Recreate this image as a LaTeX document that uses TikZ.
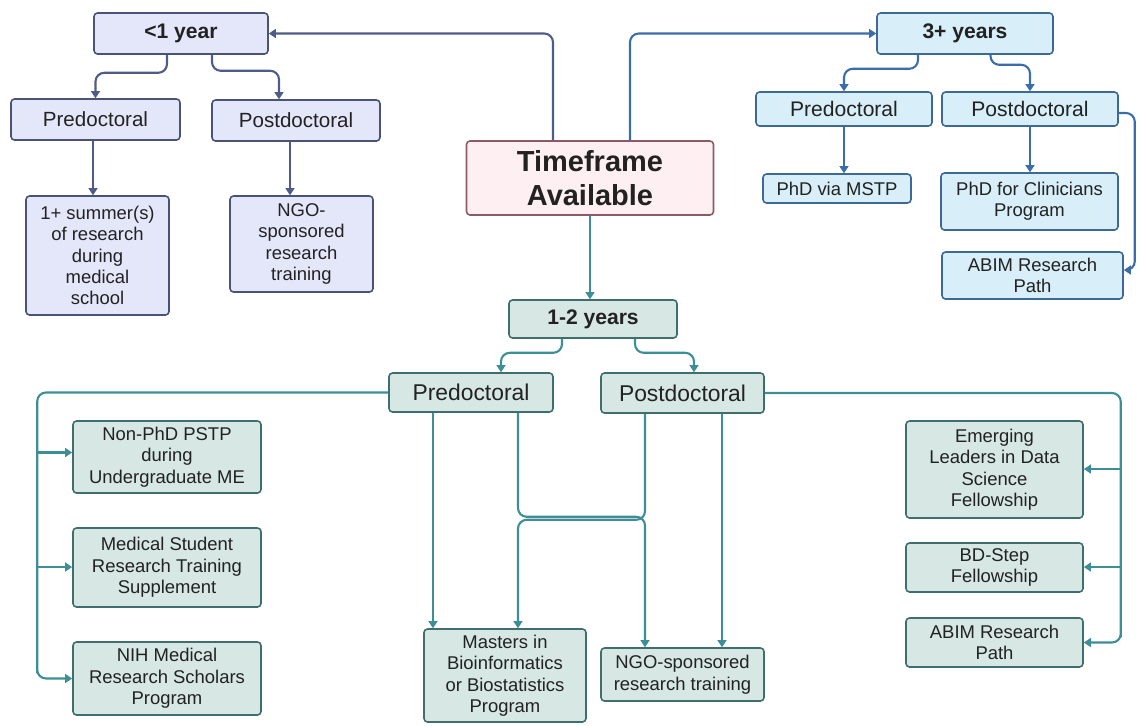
\documentclass[tikz,border=0pt]{standalone}
\usepackage{fontspec}
\setmainfont{Liberation Sans}
\usepackage{tikz}
\usetikzlibrary{positioning,
        arrows.meta}
\usepackage{xcolor}

\definecolor{lavfill}{HTML}{E4E7F9}
\definecolor{lavline}{HTML}{4A5275}
\definecolor{lavarr}{HTML}{505C88}
\definecolor{bluefill}{HTML}{D8EEF8}
\definecolor{blueline}{HTML}{3D6A95}
\definecolor{bluearr}{HTML}{3B6DAA}
\definecolor{tealfill}{HTML}{D6E7E4}
\definecolor{tealline}{HTML}{3F6E6E}
\definecolor{tealarr}{HTML}{3E8E98}
\definecolor{pinkfill}{HTML}{FDEFF2}
\definecolor{pinkline}{HTML}{8C5A66}
\definecolor{txt}{HTML}{222222}

\begin{document}
\begin{tikzpicture}[x=0.02cm,y=-0.02cm,
        box/.style 2 args={rectangle,rounded corners=2pt,inner sep=0pt,align=center,
            text=txt,font=\fontsize{10.5}{12.2}\selectfont,line width=0.9pt,
            minimum width=#1*0.02cm,minimum height=#2*0.02cm},
        hdr/.style={font=\fontsize{12}{14}\selectfont\bfseries},
        lavbox/.style={fill=lavfill,draw=lavline},
        bluebox/.style={fill=bluefill,draw=blueline},
        tealbox/.style={fill=tealfill,draw=tealline},
        link/.style={line width=1.2pt,rounded corners=5pt,-{Triangle[width=5pt,length=4pt]}},
        lavlink/.style={link,draw=lavarr},
        bluelink/.style={link,draw=bluearr},
        teallink/.style={link,draw=tealarr}]
        \useasboundingbox (0,0) rectangle (1137,725);

        \node [box={247}{74},fill=pinkfill,draw=pinkline,font=\fontsize{16.5}{19}\selectfont\bfseries] (time) at (590,178) {Timeframe\\Available};

        \node [box={174}{41},lavbox,hdr] (lt1) at (181,33.5) {<1 year};
        \node [box={169}{41},lavbox,font=\fontsize{11.7}{14}\selectfont] (pre1) at (95.5,119.5) {Predoctoral};
        \node [box={168}{41},lavbox,font=\fontsize{11.7}{14}\selectfont] (post1) at (296,120.5) {Postdoctoral};
        \node [box={143}{119},lavbox] (summer) at (97.5,255.5) {1+ summer(s)\\of research\\during\\medical\\school};
        \node [box={143}{96},lavbox] (ngo1) at (301.5,244) {NGO-\\sponsored\\research\\training};

        \node [box={176}{41},bluebox,hdr] (three) at (965,33.5) {3+ years};
        \node [box={176}{34},bluebox,font=\fontsize{12}{14}\selectfont] (pre3) at (844,109) {Predoctoral};
        \node [box={176}{34},bluebox,font=\fontsize{12}{14}\selectfont] (post3) at (1030,109) {Postdoctoral};
        \node [box={148}{29},bluebox] (mstp) at (837,188.5) {PhD via MSTP};
        \node [box={177}{57},bluebox] (clin) at (1029.5,201.5) {PhD for Clinicians\\Program};
        \node [box={181}{47},bluebox] (abim3) at (1032.5,275.5) {ABIM Research\\Path};

        \node [box={168}{38},tealbox,hdr] (one2) at (593,319) {1-2 years};
        \node [box={164}{39},tealbox,font=\fontsize{13}{15}\selectfont] (pre2) at (471,392.5) {Predoctoral};
        \node [box={163}{40},tealbox,font=\fontsize{13}{15}\selectfont] (post2) at (682.5,393) {Postdoctoral};
        \node [box={188}{72},tealbox] (pstp) at (167,457) {Non-PhD PSTP\\during\\Undergraduate ME};
        \node [box={188}{79},tealbox] (msrt) at (167,567.5) {Medical Student\\Research Training\\Supplement};
        \node [box={188}{73},tealbox] (nih) at (167,678.5) {NIH Medical\\Research Scholars\\Program};
        \node [box={162}{93},tealbox] (masters) at (505,675.5) {Masters in\\Bioinformatics\\or Biostatistics\\Program};
        \node [box={163}{53},tealbox] (ngo2) at (682.5,674.5) {NGO-sponsored\\research training};
        \node [box={177}{97},tealbox] (elds) at (994.5,469.5) {Emerging\\Leaders in Data\\Science\\Fellowship};
        \node [box={177}{49},tealbox] (bdstep) at (994.5,567.5) {BD-Step\\Fellowship};
        \node [box={177}{49},tealbox] (abim2) at (994.5,642.5) {ABIM Research\\Path};

        \draw [lavlink] ([xshift=-0.74cm]time.north) |- (lt1.east);
        \draw [bluelink] ([xshift=0.8cm]time.north) |- (three.west);
        \draw [teallink] (time.south) -- (time.south |- one2.north);

        \draw [lavlink] ([xshift=-0.28cm]lt1.south) -- ++(0,18) -| (pre1.north);
        \draw [lavlink] ([xshift=0.62cm]lt1.south) -- ++(0,16) -| ([xshift=-0.34cm]post1.north);
        \draw [lavlink] ([xshift=-0.05cm]pre1.south) -- ([xshift=-0.05cm]pre1.south |- summer.north);
        \draw [lavlink] ([xshift=-0.12cm]post1.south) -- ([xshift=-0.12cm]post1.south |- ngo1.north);

        \draw [bluelink] ([xshift=-0.94cm]three.south) -- ++(0,14) -| (pre3.north);
        \draw [bluelink] ([xshift=0.51cm]three.south) -- ++(0,10) -| (post3.north);
        \draw [bluelink] (pre3.south) -- (pre3.south |- mstp.north);
        \draw [bluelink] (post3.south) -- (post3.south |- clin.north);
        \draw [bluelink] ([yshift=-0.08cm]post3.east) -- ++(16,0) |- ([yshift=0.11cm]abim3.east);

        \draw [teallink] ([xshift=-0.62cm]one2.south) -- ++(0,14) -| ([xshift=0.6cm]pre2.north);
        \draw [teallink] ([xshift=0.84cm]one2.south) -- ++(0,14) -| ([xshift=0.23cm]post2.north);

        \draw [teallink] (pre2.west) -| ([xshift=-0.7cm]nih.west) |- (nih.west);
        \draw [teallink] ([xshift=-0.7cm,yshift=0.09cm]pstp.west) -- ([yshift=0.09cm]pstp.west);
        \draw [teallink] ([xshift=-0.7cm,yshift=0.01cm]msrt.west) -- ([yshift=0.01cm]msrt.west);
        \draw [teallink] ([xshift=-0.76cm]pre2.south) -- ([xshift=-0.76cm]pre2.south |- masters.north);
        \draw [teallink] ([xshift=0.94cm]pre2.south) -- ++(0,104) -| ([xshift=-0.75cm]ngo2.north);
        \draw [teallink] ([xshift=-0.75cm]post2.south) -- ++(0,106) -| ([xshift=0.26cm]masters.north);
        \draw [teallink] ([xshift=0.79cm]post2.south) -- ([xshift=0.79cm]post2.south |- ngo2.north);

        \draw [teallink] (post2.east) -| ([xshift=0.74cm]abim2.east) |- (abim2.east);
        \draw [teallink] ([xshift=0.74cm,yshift=0.01cm]elds.east) -- ([yshift=0.01cm]elds.east);
        \draw [teallink] ([xshift=0.74cm,yshift=0.01cm]bdstep.east) -- ([yshift=0.01cm]bdstep.east);
\end{tikzpicture}
\end{document}
